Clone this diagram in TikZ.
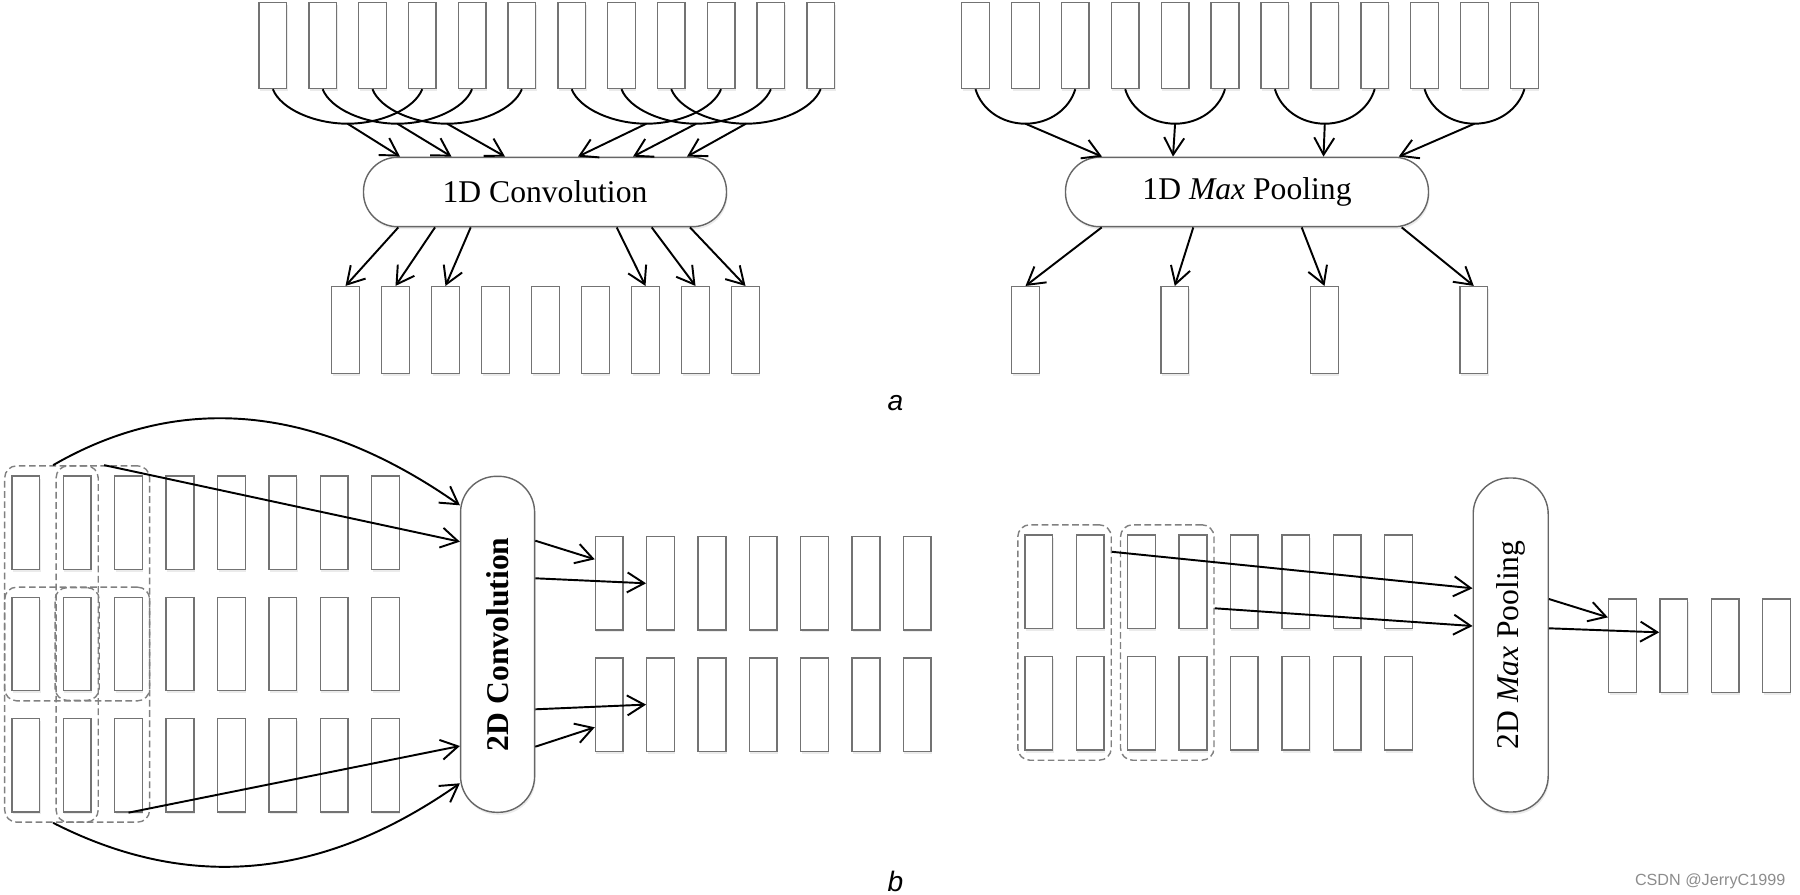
\documentclass[tikz,border=0pt]{standalone}
\usepackage{fontspec}
\setmainfont{Liberation Serif}
\newfontfamily\labelfont{Liberation Sans}
\usetikzlibrary{arrows.meta,fit,shadows,calc}

\tikzset{
	cell/.style={draw=black!55, fill=white, line width=0.4pt, inner sep=0pt,
		minimum width=0.277cm, minimum height=0.86cm,
		drop shadow={shadow xshift=0.01cm, shadow yshift=-0.025cm, fill=black, opacity=0.08}},
	tallcell/.style={cell, minimum height=0.933cm},
	op/.style={draw=black!60, fill=white, line width=0.4pt, inner sep=0pt,
		font=\fontsize{9}{10}\selectfont,
		drop shadow={shadow xshift=0.01cm, shadow yshift=-0.025cm, fill=black, opacity=0.08}},
	window/.style={draw=black!50, line width=0.4pt, dash pattern=on 1.9pt off 1pt,
		rounded corners=0.12cm, inner xsep=0.065cm, inner ysep=0.095cm},
	link/.style={line width=0.55pt, -{Straight Barb[length=0.17cm, width=0.2cm]}},
	arcline/.style={line width=0.55pt},
	tag/.style={inner sep=0pt, font=\labelfont\itshape\fontsize{8}{9}\selectfont},
	credit/.style={inner sep=0pt, text=black!45, font=\labelfont\fontsize{4.6}{5}\selectfont}
}

\begin{document}
\begin{tikzpicture}
	\useasboundingbox (0,0) rectangle (18,8.94);
	
	%%%%% (a) 1D convolution %%%%%
	\foreach \i in {1,...,12}
		\node[cell] (ci\i) at ({2.7285+0.498*(\i-1)}, 8.485) {};
	\node[op, rounded corners=0.34cm, minimum width=3.63cm, minimum height=0.694cm] (conv1) at (5.45, 7.02) {1D Convolution};
	\foreach \i in {1,...,9}
		\node[cell, minimum height=0.867cm] (co\i) at ({3.455+0.5*(\i-1)}, 5.64) {};
	
	\foreach \a/\b/\k in {1/4/1, 2/5/2, 3/6/3, 7/10/4, 8/11/5, 9/12/6}{
		\coordinate (cu\k) at ($(ci\a.south)!0.5!(ci\b.south)+(0,-0.345)$);
		\draw[arcline] (ci\a.south) .. controls +(0.08,-0.2) and +(-0.33,0) .. (cu\k)
			.. controls +(0.33,0) and +(-0.08,-0.2) .. (ci\b.south);
	}
	\foreach \k/\s in {1/-1.45, 2/-0.935, 3/-0.40, 4/0.33, 5/0.88, 6/1.42}
		\draw[link] (cu\k) -- ([xshift=\s cm]conv1.north);
	\foreach \k/\s in {1/-1.467, 2/-1.10, 3/-0.743, 7/0.717, 8/1.067, 9/1.45}
		\draw[link] ([xshift=\s cm]conv1.south) -- (co\k.north);
	
	%%%%% (a) 1D max pooling %%%%%
	\foreach \i in {1,...,12}
		\node[cell] (pi\i) at ({9.755+0.499*(\i-1)}, 8.485) {};
	\node[op, rounded corners=0.34cm, minimum width=3.63cm, minimum height=0.694cm] (pool1) at (12.47, 7.02) {1D \textit{Max} Pooling};
	\foreach \i/\x in {1/10.255, 2/11.748, 3/13.245, 4/14.738}
		\node[cell, minimum height=0.867cm] (po\i) at (\x, 5.64) {};
	
	\foreach \a/\b/\k in {1/3/1, 4/6/2, 7/9/3, 10/12/4}{
		\coordinate (pu\k) at ($(pi\a.south)!0.5!(pi\b.south)+(0,-0.345)$);
		\draw[arcline] (pi\a.south) .. controls +(0.06,-0.2) and +(-0.24,0) .. (pu\k)
			.. controls +(0.24,0) and +(-0.06,-0.2) .. (pi\b.south);
	}
	\foreach \k/\s in {1/-1.45, 2/-0.74, 3/0.765, 4/1.517}
		\draw[link] (pu\k) -- ([xshift=\s cm]pool1.north);
	\foreach \k/\s in {1/-1.453, 2/-0.537, 3/0.547, 4/1.547}
		\draw[link] ([xshift=\s cm]pool1.south) -- (po\k.north);
	
	\node[tag, anchor=base] (lab-a) at (8.955, 4.84) {a};
	
	%%%%% (b) 2D convolution %%%%%
	\foreach \r/\y in {1/3.713, 2/2.50, 3/1.287}
		\foreach \c in {1,...,8}
			\node[tallcell] (cx-\r-\c) at ({0.2575+0.514*(\c-1)}, \y) {};
	
	\node[window, fit=(cx-1-1)(cx-3-3)] (winA) {};
	\node[window, fit=(cx-1-2)(cx-3-2)] (winB) {};
	\node[window, fit=(cx-2-1)(cx-2-3)] (winC) {};
	\node[window, inner xsep=0.075cm, inner ysep=0.09cm, fit=(cx-2-2)] (winD) {};
	
	\node[op, rounded corners=0.36cm, minimum width=0.74cm, minimum height=3.36cm] (conv2) at (4.976, 2.497) {\rotatebox{90}{\bfseries 2D Convolution}};
	
	\foreach \r/\y in {1/3.107, 2/1.894}
		\foreach \c in {1,...,7}
			\node[tallcell] (cy-\r-\c) at ({6.093+0.5133*(\c-1)}, \y) {};
	
	\draw[link] ([xshift=-0.24cm]winA.north) to[out=30, in=145] ([yshift=1.39cm]conv2.west);
	\draw[link] ([xshift=0.27cm]winA.north) -- ([yshift=1.026cm]conv2.west);
	\draw[link] (cx-3-3.south) -- ([yshift=-1.017cm]conv2.west);
	\draw[link] ([xshift=-0.24cm]winA.south) to[out=-27, in=-145] ([yshift=-1.39cm]conv2.west);
	
	\draw[link] ([yshift=1.036cm]conv2.east) -- ([yshift=0.24cm]cy-1-1.west);
	\draw[link] ([yshift=0.66cm]conv2.east) -- (cy-1-2.west);
	\draw[link] ([yshift=-0.65cm]conv2.east) -- (cy-2-2.west);
	\draw[link] ([yshift=-1.024cm]conv2.east) -- ([yshift=-0.227cm]cy-2-1.west);
	
	%%%%% (b) 2D max pooling %%%%%
	\foreach \r/\y in {1/3.1235, 2/1.9065}
		\foreach \c in {1,...,8}
			\node[tallcell] (px-\r-\c) at ({10.3885+0.5137*(\c-1)}, \y) {};
	
	\node[window, fit=(px-1-1)(px-2-2)] (winE) {};
	\node[window, fit=(px-1-3)(px-2-4)] (winF) {};
	
	\node[op, rounded corners=0.36cm, minimum width=0.75cm, minimum height=3.34cm] (pool2) at (15.107, 2.49) {\rotatebox{90}{2D \textit{Max} Pooling}};
	
	\foreach \i in {1,...,4}
		\node[tallcell] (py\i) at ({16.2245+0.5133*(\i-1)}, 2.4835) {};
	
	\draw[link] ([yshift=0.907cm]winE.east) -- ([yshift=0.567cm]pool2.west);
	\draw[link] ([yshift=0.342cm]winF.east) -- ([yshift=0.19cm]pool2.west);
	\draw[link] ([yshift=0.46cm]pool2.east) -- ([yshift=0.283cm]py1.west);
	\draw[link] ([yshift=0.167cm]pool2.east) -- ([yshift=0.133cm]py2.west);
	
	\node[tag, anchor=base] (lab-b) at (8.955, 0.03) {b};
	\node[credit, anchor=base east] (credit) at (17.86, 0.09) {CSDN @JerryC1999};
\end{tikzpicture}
\end{document}
